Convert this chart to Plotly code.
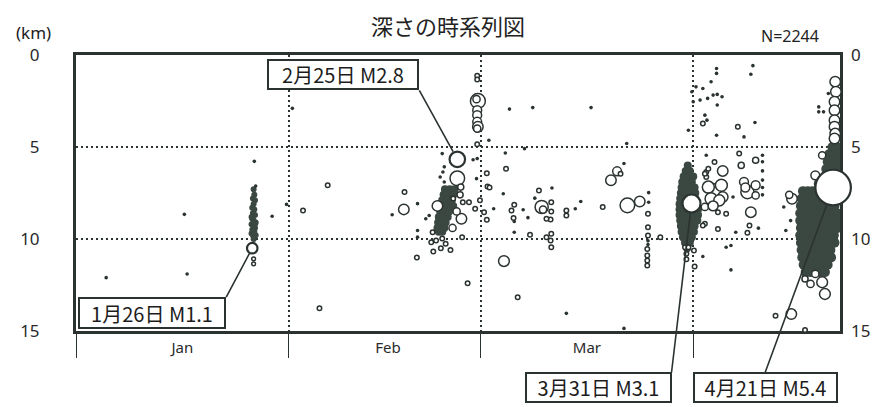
import numpy as np
import plotly.graph_objects as go

# ---------------- data ----------------
# day = days since 1 Jan 00:00, depth in km, mag = magnitude
jan_events = [
    (4.4, 12.1, -0.5), (15.8, 8.66, -0.5), (16.2, 11.9, -0.5), (26.0, 5.78, -0.5),
    (26.2, 7.12, -0.5), (25.9, 11.08, -0.2), (25.9, 11.35, -0.2), (28.6, 8.76, -0.5),
    (30.7, 8.12, -0.5),
]
feb_events = [
    (31.55, 2.9, -0.5), (33.1, 8.45, 0.0), (36.7, 7.08, 0.0), (35.5, 13.77, 0.0),
    (47.9, 7.45, 0.0), (47.8, 8.39, 1.1), (46.1, 8.68, -0.5), (49.8, 8.08, -0.5),
    (49.7, 11.0, 0.0), (57.1, 12.4, 0.0), (51.0, 8.9, -0.5), (51.5, 8.72, -0.5),
    (49.8, 9.54, -0.5), (49.8, 9.9, -0.5), (53.4, 5.36, -0.5), (53.5, 6.36, -0.5),
    (53.7, 6.9, -0.5), (53.7, 6.08, -0.5), (53.1, 6.63, -0.5), (55.6, 6.7, 2.5),
    (56.1, 7.18, 0.3), (56.4, 8.0, 0.0), (57.3, 8.0, 0.0), (56.2, 8.9, 1.1),
    (54.9, 9.4, 0.5), (56.3, 9.9, 0.0), (54.6, 10.6, 0.0), (53.9, 10.26, 0.0),
    (53.2, 10.5, 0.0), (52.1, 10.68, 0.0), (51.8, 10.17, 0.0), (52.5, 10.08, 0.0),
    (52.0, 9.63, 0.0), (53.4, 9.97, 0.0), (52.7, 8.2, 1.1), (55.5, 8.5, 0.5),
    (56.0, 7.6, 0.3), (55.0, 7.8, 0.0), (58.5, 1.13, 0.0), (58.5, 1.33, 0.0),
    (58.6, 2.5, 2.6), (58.4, 2.4, 0.5), (58.5, 3.0, 0.8), (58.5, 3.27, 0.8),
    (58.5, 3.63, 0.8), (58.6, 3.9, 1.1), (58.5, 4.0, 0.5), (58.5, 4.85, 0.0),
    (58.9, 7.9, 0.0), (58.2, 8.36, 0.0), (58.5, 5.63, -0.5), (57.9, 5.69, -0.5),
    (58.4, 6.72, -0.5),
]
mar_events = [
    (59.5, 8.54, 0.0), (59.9, 8.95, 0.0), (59.9, 6.43, 0.0), (60.0, 7.15, 0.0),
    (60.3, 7.2, 0.0), (60.2, 4.63, -0.5), (60.9, 8.36, -0.5), (62.3, 7.54, -0.5),
    (62.6, 5.33, -0.5), (65.4, 5.09, -0.5), (62.7, 6.18, 0.0), (62.4, 11.2, 1.2),
    (63.2, 2.94, -0.5), (66.6, 2.86, -0.5), (75.1, 2.86, -0.5), (80.3, 4.81, -0.5),
    (89.3, 4.09, -0.5), (89.8, 2.0, -0.5), (79.9, 5.9, -0.5), (78.9, 6.32, 0.8),
    (78.0, 6.81, 1.1), (79.4, 6.45, 0.0), (67.5, 7.36, 0.0), (69.4, 7.23, -0.5),
    (67.9, 8.26, 2.0), (68.1, 8.4, 0.5), (69.3, 8.0, 0.0), (69.3, 8.5, 0.0),
    (69.2, 8.94, 0.0), (68.6, 8.9, 0.0), (66.9, 7.78, -0.5), (63.9, 8.14, 0.0),
    (63.5, 8.45, 0.0), (63.8, 8.86, 0.0), (63.9, 9.05, -0.5), (65.2, 8.41, -0.5),
    (65.9, 8.84, -0.5), (63.9, 9.63, -0.5), (66.2, 9.77, 0.0), (68.6, 9.9, 0.0),
    (69.3, 9.72, 0.0), (69.2, 10.08, 0.0), (69.3, 10.45, 0.0), (71.5, 8.45, 0.0),
    (71.5, 8.72, 0.0), (72.8, 8.36, -0.5), (73.6, 7.96, -0.5), (76.8, 8.26, 0.0),
    (80.4, 8.17, 2.5), (80.3, 8.3, -0.5), (82.2, 7.96, 1.1), (64.4, 13.17, 0.0),
    (71.5, 14.04, -0.5), (79.9, 14.86, -0.5), (83.5, 7.48, -0.5), (83.5, 8.0, -0.5),
    (83.4, 8.63, 0.0), (83.4, 9.36, 0.0), (83.4, 9.81, 0.0), (83.4, 10.1, -0.5),
    (83.4, 10.3, -0.5), (83.3, 10.54, 0.0), (83.3, 10.9, 0.0), (83.3, 11.17, 0.0),
    (83.3, 11.44, 0.0), (85.2, 9.9, 0.0), (89.0, 11.1, 0.0), (88.8, 10.45, 0.0),
    (89.3, 10.45, 0.0), (89.0, 10.8, 0.0),
]
apr_events = [
    (90.1, 10.63, 0.0), (90.2, 11.5, 0.0), (91.4, 10.95, -0.5), (95.5, 11.68, -0.5),
    (94.8, 10.45, -0.5), (95.5, 10.35, -0.5), (91.9, 5.45, -0.5), (93.1, 5.81, 0.0),
    (91.9, 6.36, 0.0), (91.9, 6.63, 0.0), (94.3, 6.3, 1.1), (93.1, 7.36, 2.0),
    (94.1, 7.08, 1.6), (92.2, 7.18, 1.6), (92.6, 7.81, 1.6), (94.3, 7.72, 1.1),
    (91.7, 8.26, 0.5), (93.6, 8.54, 0.0), (94.8, 8.63, 0.0), (91.7, 9.17, 0.0),
    (93.6, 9.45, 0.0), (95.8, 7.72, -0.5), (96.2, 9.63, -0.5), (96.7, 5.36, 0.0),
    (97.0, 6.0, 0.3), (99.1, 5.72, 0.3), (100.1, 5.45, -0.5), (100.1, 5.8, -0.5),
    (100.1, 6.3, -0.5), (100.1, 6.8, -0.5), (100.1, 7.2, -0.5), (100.1, 7.6, -0.5),
    (97.9, 7.45, 2.0), (98.4, 8.54, 1.1), (99.1, 7.08, 0.8), (99.1, 7.63, 0.5),
    (97.4, 6.9, 0.8), (97.6, 7.2, 0.8), (98.2, 9.26, 0.0), (97.9, 9.66, 0.0),
    (99.5, 9.41, -0.5), (92.2, 6.18, 0.0), (91.7, 6.45, 0.0), (91.4, 9.26, 0.0),
    (93.8, 7.9, 1.3), (92.9, 8.2, 1.0),
    (93.4, 0.73, -0.5), (93.4, 1.0, -0.5), (98.7, 0.58, -0.5), (98.4, 1.05, -0.5),
    (92.6, 1.45, -0.5), (91.4, 1.82, -0.5), (90.4, 1.73, -0.5), (92.1, 2.36, -0.5),
    (92.9, 2.18, -0.5), (93.5, 2.14, -0.5), (94.2, 2.27, -0.5), (91.0, 2.45, -0.5),
    (90.0, 2.54, -0.5), (93.5, 2.72, -0.5), (91.7, 3.27, -0.5), (92.0, 3.54, -0.5),
    (93.4, 4.36, -0.5), (99.0, 3.67, -0.5), (97.4, 4.45, -0.5), (91.4, 3.72, 0.0),
    (96.5, 3.9, 0.0), (103.2, 8.26, -0.5), (104.2, 9.0, -0.5), (103.5, 9.54, -0.5),
    (104.4, 7.81, 1.1), (104.0, 7.6, 0.5), (102.0, 14.17, 0.0), (104.3, 14.08, 1.1),
    (106.3, 14.95, 0.0), (107.8, 6.54, 0.8), (108.8, 5.45, 0.5),
    (110.7, 1.45, 1.1), (110.8, 2.0, 1.1), (110.6, 2.54, 1.1), (110.6, 3.0, 1.1),
    (110.6, 3.54, 1.1), (110.6, 3.9, 1.1), (110.7, 4.27, 1.1), (110.6, 4.54, 1.1),
    (108.3, 2.82, -0.5), (108.3, 3.09, -0.5), (109.0, 3.09, -0.5), (109.7, 2.09, -0.5),
    (106.3, 12.17, 0.3), (107.1, 12.44, 0.5), (107.8, 11.9, 0.5), (108.8, 12.35, 1.2),
    (109.2, 12.99, 1.2),
]

# dense swarms (individual events indistinguishable): (day, depth)
jan_swarm = [
    (25.9, 7.3), (26.0, 7.6), (25.8, 7.8), (26.1, 7.9), (25.9, 8.1), (25.7, 8.3),
    (26.0, 8.4), (25.8, 8.6), (26.1, 8.7), (25.6, 8.8), (25.7, 8.9), (25.9, 9.0),
    (26.2, 9.1), (25.6, 9.2), (25.9, 9.3), (26.1, 9.4), (25.7, 9.5), (26.0, 9.6),
    (25.8, 9.8), (26.2, 9.8), (25.9, 10.0), (25.6, 9.7), (26.1, 9.2),
]
feb_swarm = [
    (53.8, 7.3), (54.5, 7.3), (55.2, 7.3), (53.6, 7.6), (54.3, 7.6), (55.0, 7.6),
    (53.4, 7.9), (54.1, 7.9), (54.8, 7.9), (53.3, 8.2), (53.9, 8.2), (54.6, 8.2),
    (55.0, 8.2), (53.1, 8.5), (53.8, 8.5), (54.4, 8.5), (52.9, 8.8), (53.5, 8.8),
    (54.2, 8.8), (52.8, 9.1), (53.3, 9.1), (53.9, 9.1), (52.7, 9.4), (53.2, 9.4),
    (53.7, 9.4), (52.9, 9.6), (53.4, 9.6),
]
mar_swarm = [
    (89.2, 6.0), (88.9, 6.3), (89.5, 6.3), (88.6, 6.6), (89.4, 6.6), (90.0, 6.6),
    (88.4, 6.9), (89.1, 6.9), (89.8, 6.9), (88.3, 7.2), (89.0, 7.2), (89.7, 7.2),
    (90.2, 7.2), (88.2, 7.5), (88.9, 7.5), (89.6, 7.5), (90.3, 7.5), (88.1, 7.8),
    (88.8, 7.8), (89.5, 7.8), (90.3, 7.8), (88.0, 8.1), (88.7, 8.1), (90.4, 8.1),
    (88.0, 8.4), (88.7, 8.4), (89.4, 8.4), (90.2, 8.4), (90.7, 8.4), (88.0, 8.7),
    (88.7, 8.7), (89.4, 8.7), (90.1, 8.7), (90.7, 8.7), (88.1, 9.0), (88.8, 9.0),
    (89.5, 9.0), (90.2, 9.0), (90.6, 9.0), (88.2, 9.3), (88.9, 9.3), (89.6, 9.3),
    (90.2, 9.3), (88.3, 9.6), (89.0, 9.6), (89.7, 9.6), (90.1, 9.6), (88.5, 9.9),
    (89.2, 9.9), (89.8, 9.9), (88.8, 10.2), (89.5, 10.2), (89.1, 10.5),
]
apr_swarm = [
    (110.3, 5.0), (111.0, 5.0), (109.8, 5.4), (110.5, 5.4), (111.0, 5.4),
    (109.6, 5.8), (110.3, 5.8), (111.0, 5.8), (109.4, 6.2), (110.1, 6.2), (110.8, 6.2),
    (109.2, 6.6), (109.8, 6.6), (108.3, 7.0), (109.0, 7.0),
    (106.0, 7.4), (106.7, 7.4), (107.4, 7.4), (108.1, 7.4),
    (105.8, 7.8), (106.5, 7.8), (107.2, 7.8), (107.9, 7.8), (108.6, 7.8),
    (105.7, 8.2), (106.4, 8.2), (107.1, 8.2), (107.8, 8.2), (108.5, 8.2), (109.2, 8.2),
    (109.9, 8.2), (110.6, 8.2),
    (105.6, 8.6), (106.3, 8.6), (107.0, 8.6), (107.7, 8.6), (108.4, 8.6), (109.1, 8.6),
    (109.8, 8.6), (110.5, 8.6), (111.0, 8.6),
    (105.6, 9.0), (106.3, 9.0), (107.0, 9.0), (107.7, 9.0), (108.4, 9.0), (109.1, 9.0),
    (109.8, 9.0), (110.5, 9.0), (111.0, 9.0),
    (105.7, 9.4), (106.4, 9.4), (107.1, 9.4), (107.8, 9.4), (108.5, 9.4), (109.2, 9.4),
    (109.9, 9.4), (110.6, 9.4), (111.0, 9.4),
    (105.6, 9.8), (106.3, 9.8), (107.0, 9.8), (107.7, 9.8), (108.4, 9.8), (109.1, 9.8),
    (109.8, 9.8), (110.5, 9.8),
    (105.7, 10.2), (106.4, 10.2), (107.1, 10.2), (107.8, 10.2), (108.5, 10.2),
    (109.2, 10.2), (109.9, 10.2), (110.6, 10.2),
    (105.8, 10.6), (106.5, 10.6), (107.2, 10.6), (107.9, 10.6), (108.6, 10.6),
    (109.3, 10.6), (110.0, 10.6),
    (105.9, 11.0), (106.6, 11.0), (107.3, 11.0), (108.0, 11.0), (108.7, 11.0),
    (109.4, 11.0), (110.1, 11.0),
    (106.1, 11.4), (106.8, 11.4), (107.5, 11.4), (108.2, 11.4), (108.9, 11.4),
    (109.6, 11.4),
    (106.4, 11.8), (107.1, 11.8), (107.8, 11.8), (108.5, 11.8), (109.2, 11.8),
]

# labelled events
hl_day = [25.7, 55.6, 89.75, 110.4]
hl_depth = [10.5, 5.67, 8.07, 7.2]
hl_mag = [1.1, 2.8, 3.1, 5.4]
hl_text = ["1月26日 M1.1", "2月25日 M2.8", "3月31日 M3.1", "4月21日 M5.4"]

month_start = [0, 31, 59, 90]
month_mid = [15.5, 45.5, 74.5]
month_labels = ["Jan", "Feb", "Mar"]
depth_ticks = [0, 5, 10, 15]
n_total = 2244

# ---------------- style ----------------
INK = "#2b3330"
SWARM = "#3b4741"
FONT = "Noto Sans CJK JP, Noto Sans, sans-serif"
X_RANGE = [0, 111.4]


def size_of(m):
    return np.interp(m, [-0.3, 0.0, 1.1, 2.8, 3.1, 5.4], [3.5, 4.5, 10.5, 15.5, 18.0, 35.5])


events = jan_events + feb_events + mar_events + apr_events
dots = [e for e in events if e[2] < -0.3]
circles = [e for e in events if e[2] >= -0.3]

fig = go.Figure()

for swarm, sz in [(jan_swarm, 6), (feb_swarm, 8), (mar_swarm, 8), (apr_swarm, 10)]:
    fig.add_trace(go.Scatter(
        x=[p[0] for p in swarm], y=[p[1] for p in swarm], mode="markers",
        marker=dict(size=sz, color=SWARM, opacity=1, line=dict(width=0)),
        hoverinfo="skip", showlegend=False))

fig.add_trace(go.Scatter(
    x=[e[0] for e in dots], y=[e[1] for e in dots], mode="markers",
    marker=dict(size=3.6, color=INK, opacity=1, line=dict(width=0)),
    showlegend=False))

fig.add_trace(go.Scatter(
    x=[e[0] for e in circles], y=[e[1] for e in circles], mode="markers",
    marker=dict(size=size_of(np.array([e[2] for e in circles])), color="white",
                opacity=1, line=dict(width=1.5, color=INK)),
    cliponaxis=False, showlegend=False))

fig.add_trace(go.Scatter(
    x=hl_day, y=hl_depth, mode="markers",
    marker=dict(size=size_of(np.array(hl_mag)), color="white", opacity=1,
                line=dict(width=2.2, color=INK)),
    cliponaxis=False, showlegend=False))

# label boxes (pixel offsets from the event to the box corner)
box_style = [
    dict(ax=-26, ay=49, xanchor="right", yanchor="top", w=142, h=26),
    dict(ax=-38, ay=-69, xanchor="right", yanchor="bottom", w=146, h=25),
    dict(ax=-20, ay=169, xanchor="right", yanchor="top", w=141, h=25),
    dict(ax=-68, ay=185, xanchor="center", yanchor="top", w=139, h=25),
]
for d, z, m, t, s in zip(hl_day, hl_depth, hl_mag, hl_text, box_style):
    fig.add_annotation(
        x=d, y=z, xref="x", yref="y", text=t, showarrow=True, arrowhead=0,
        arrowwidth=1.6, arrowcolor=INK, ax=s["ax"], ay=s["ay"],
        xanchor=s["xanchor"], yanchor=s["yanchor"], width=s["w"], height=s["h"],
        align="center", valign="middle", bgcolor="white", bordercolor=INK,
        borderwidth=2, borderpad=1, standoff=float(size_of(m)) / 2 + 1,
        font=dict(family=FONT, size=20, color="#1c1c1c"))

fig.add_annotation(x=-0.056, y=1.08, xref="paper", yref="paper", text="(km)",
                   showarrow=False, xanchor="center", yanchor="middle",
                   font=dict(family="Noto Sans, sans-serif", size=17, color="#222"))
fig.add_annotation(x=0.934, y=1.069, xref="paper", yref="paper", text=f"N={n_total}",
                   showarrow=False, xanchor="center", yanchor="middle",
                   font=dict(family="Noto Sans, sans-serif", size=16, color="#222"))

# the page places the figure 8 px from the top-left corner of the window
tickfont = dict(family="Noto Sans, sans-serif", size=17, color="#2a2a2a")
fig.update_layout(
    width=874, height=399,
    margin=dict(l=67, r=37, t=47, b=76),
    paper_bgcolor="white", plot_bgcolor="white",
    title=dict(text="深さの時系列図", x=0.487, xref="paper", y=0.952, yref="container",
               xanchor="center", yanchor="middle",
               font=dict(family=FONT, size=22, color="#222")),
    xaxis=dict(range=X_RANGE, tickvals=month_start, showticklabels=False,
               ticks="outside", ticklen=24, tickwidth=1.2, tickcolor=INK,
               showgrid=True, gridcolor=INK, gridwidth=1.6, griddash="2px,3px",
               showline=True, linewidth=3, linecolor=INK, mirror=True,
               zeroline=False, layer="below traces"),
    xaxis2=dict(range=X_RANGE, overlaying="x", anchor="y", side="bottom",
                tickvals=month_mid, ticktext=month_labels, ticks="",
                showgrid=False, showline=False, zeroline=False,
                ticklabelstandoff=6,
                tickfont=dict(family="Noto Sans, sans-serif", size=15, color="#2a2a2a")),
    yaxis=dict(range=[15, 0], tickvals=depth_ticks, ticks="", tickfont=tickfont,
               showgrid=True, gridcolor=INK, gridwidth=1.6, griddash="2px,3px",
               showline=True, linewidth=3, linecolor=INK, mirror=True,
               zeroline=False, ticklabelstandoff=30, layer="below traces"),
    yaxis2=dict(range=[15, 0], overlaying="y", anchor="x", side="right",
                tickvals=depth_ticks, ticks="", tickfont=tickfont,
                showgrid=False, showline=False, zeroline=False,
                ticklabelstandoff=10),
)
# invisible helper trace so that the overlay axes are drawn
fig.add_trace(go.Scatter(x=[None], y=[None], xaxis="x2", yaxis="y2",
                         showlegend=False, hoverinfo="skip"))

fig.write_html("out.html")
